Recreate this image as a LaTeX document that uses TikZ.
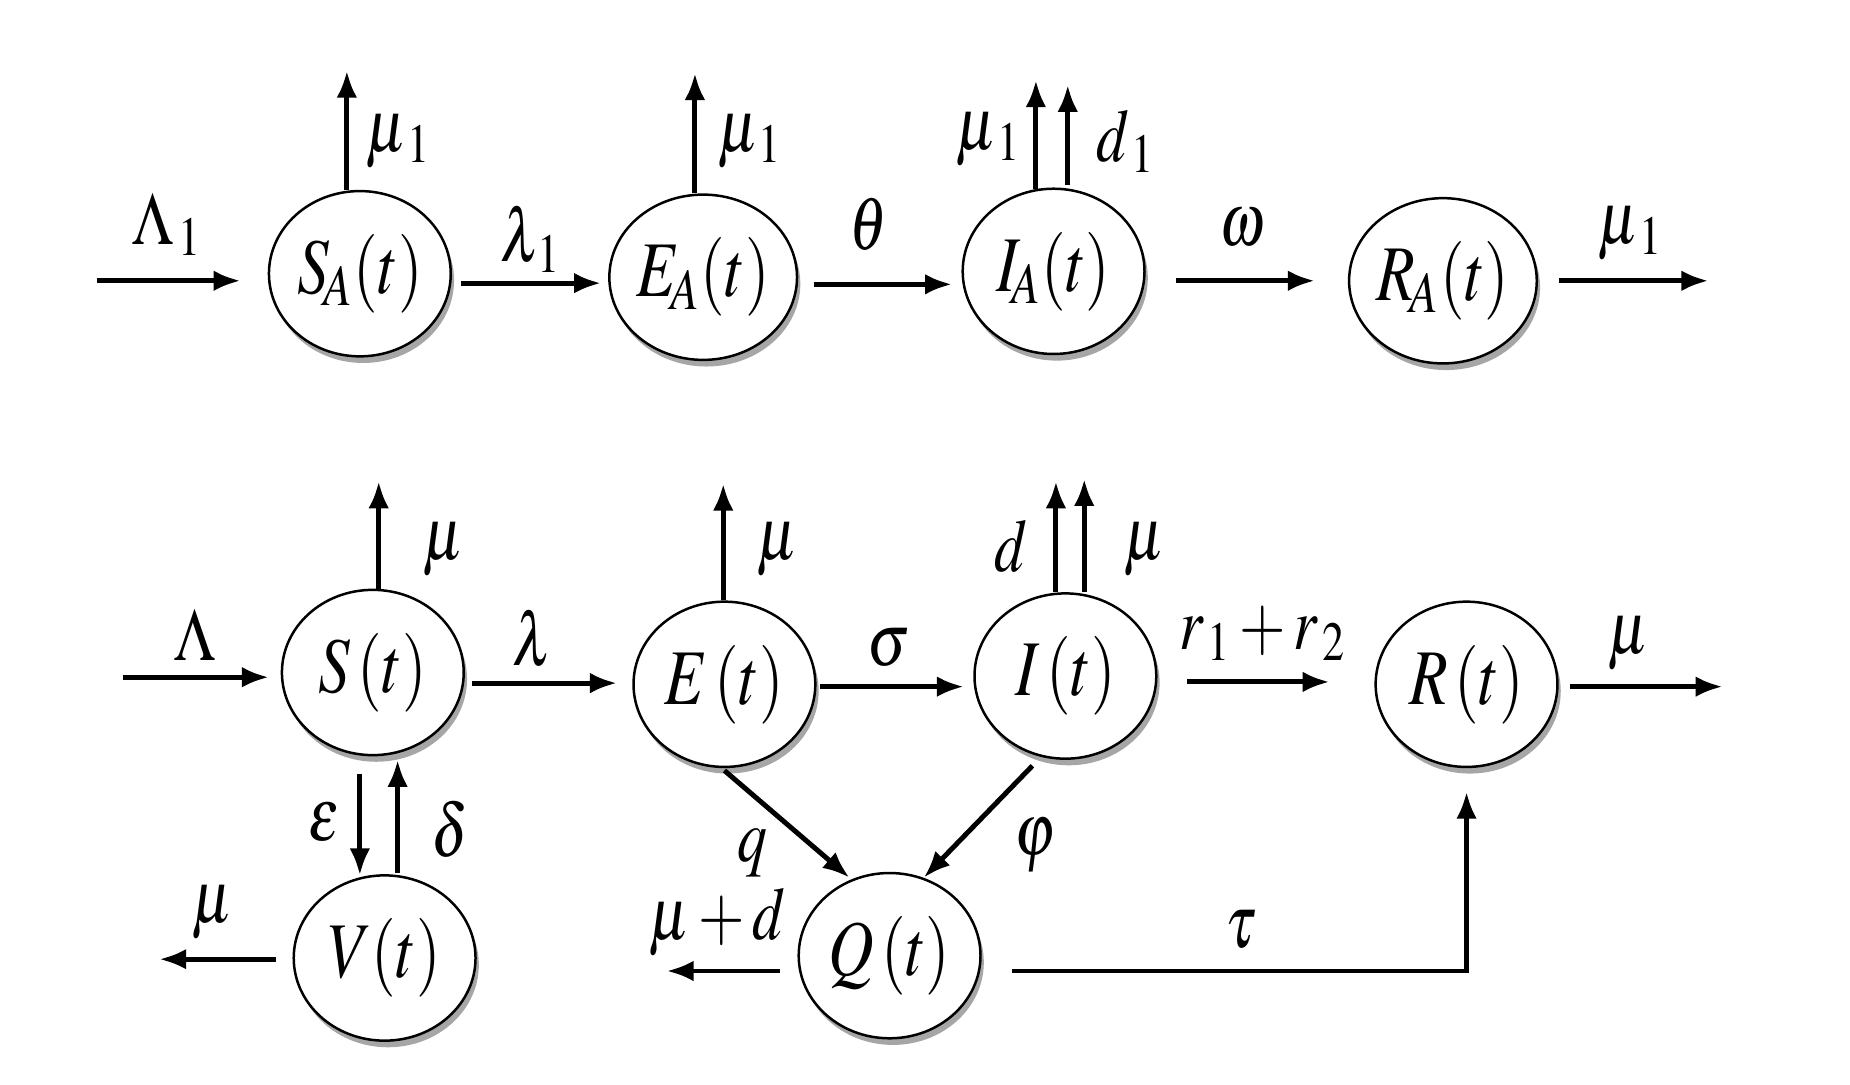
\documentclass[tikz,border=0pt]{standalone}
\usepackage{mathptmx}
\usepackage{graphicx}
\usetikzlibrary{arrows.meta,calc,shadows,shapes.geometric}
\newcommand{\condm}[1]{\scalebox{0.8}[1]{$#1$}}
\begin{document}
\begin{tikzpicture}[x=0.01cm,y=-0.01cm,
  comp/.style={draw, line width=0.6pt, ellipse, minimum width=1.54cm, minimum height=1.40cm,
    inner sep=0pt, fill=white,
    drop shadow={shadow xshift=0.8pt, shadow yshift=-1.6pt, opacity=0.35, fill=black},
    font=\fontsize{19}{22}\selectfont},
  flow/.style={-{Latex[length=6.5pt,width=5pt]}, line width=1.2pt},
  lab/.style={font=\fontsize{18}{21}\selectfont, inner sep=0pt}]
\fill[white] (0,0) rectangle (1568,919);
\useasboundingbox (0,0) rectangle (1568,919);

% ---------- top row ----------
\node[comp] (SA) at (305,232) {\condm{S_{\!A}(t)}};
\node[comp] (EA) at (596,235) {\condm{E_{\!A}(t)}};
\node[comp] (IA) at (893,230) {\condm{I_{\!A}(t)}};
\node[comp] (RA) at (1223,238) {\condm{R_{\!A}(t)}};

\coordinate (inA) at (82,238);
\coordinate (upSA) at (294,60);
\coordinate (upEA) at (589,62);
\coordinate (upIA1) at (878,68);
\coordinate (upIA2) at (905,72);
\coordinate (outRA) at (1448,238);

\draw[flow] (inA) -- ($(SA.west)+(-23,6)$);
\draw[flow] ($(SA.north)+(-11,0)$) -- (upSA);
\draw[flow] ($(SA.east)+(8,8)$) -- ($(EA.west)+(-6,5)$);
\draw[flow] ($(EA.north)+(-7,0)$) -- (upEA);
\draw[flow] ($(EA.east)+(13,6)$) -- ($(IA.west)+(-8,11)$);
\draw[flow] ($(IA.north)+(-15,1)$) -- (upIA1);
\draw[flow] ($(IA.north)+(12,-2)$) -- (upIA2);
\draw[flow] ($(IA.east)+(26,8)$) -- ($(RA.west)+(-28,0)$);
\draw[flow] ($(RA.east)+(18,0)$) -- (outRA);

\node[lab] (tLA1) at (142,190) {\condm{\Lambda_{\,1}}};
\node[lab] (tmuSA) at (338,120) {\condm{\mu_{\,1}}};
\node[lab] (tlam1) at (450,203) {\condm{\lambda_{\,1}}};
\node[lab] (tmuEA) at (636,120) {\condm{\mu_{\,1}}};
\node[lab] (ttheta) at (736,190) {\condm{\theta}};
\node[lab] (tmuIA) at (838,118) {\condm{\mu_{\,1}}};
\node[lab] (td1) at (954,120) {\condm{d_{\,1}}};
\node[lab] (tomega) at (1053,193) {\condm{\omega}};
\node[lab] (tmuRA) at (1382,198) {\condm{\mu_{\,1}}};

% ---------- bottom row ----------
\node[comp] (S) at (316,570) {\condm{S\,(t)}};
\node[comp] (E) at (614,580) {\condm{E\,(t)}};
\node[comp] (I) at (903,573) {\condm{I\,(t)}};
\node[comp] (R) at (1243,580) {\condm{R\,(t)}};
\node[comp] (V) at (326,812) {\condm{V(t)}};
\node[comp] (Q) at (754,810) {\condm{Q\,(t)}};

\coordinate (inS) at (104,574);
\coordinate (upS) at (321,408);
\coordinate (upE) at (613,410);
\coordinate (upI1) at (895,408);
\coordinate (upI2) at (919,406);
\coordinate (outR) at (1460,582);
\coordinate (outV) at (135,813);
\coordinate (outQ) at (565,823);

\draw[flow] (inS) -- ($(S.west)+(-10,4)$);
\draw[flow] ($(S.north)+(5,0)$) -- (upS);
\draw[flow] ($(S.east)+(6,9)$) -- ($(E.west)+(-13,-1)$);
\draw[flow] ($(E.north)+(-1,0)$) -- (upE);
\draw[flow] ($(E.east)+(3,2)$) -- ($(I.west)+(-8,9)$);
\draw[flow] ($(I.north)+(-8,0)$) -- (upI1);
\draw[flow] ($(I.north)+(16,0)$) -- (upI2);
\draw[flow] ($(I.east)+(25,5)$) -- ($(R.west)+(-38,-2)$);
\draw[flow] ($(R.east)+(10,2)$) -- (outR);
\draw[flow] ($(S.south)+(-11,15)$) -- ($(V.north)+(-21,1)$);
\draw[flow] ($(V.north)+(11,-1)$) -- ($(S.south)+(21,3)$);
\draw[flow] ($(V.west)+(-14,1)$) -- (outV);
\draw[flow] ($(E.south)+(0,2)$) -- ($(Q.north)+(-34,5)$);
\draw[flow] ($(I.south)+(-28,5)$) -- ($(Q.north)+(29,5)$);
\draw[flow] ($(Q.west)+(-15,13)$) -- (outQ);
\draw[flow] ($(Q.east)+(26,13)$) -| ($(R.south)+(0,20)$);

\node[lab] (tLA) at (165,538) {\condm{\Lambda}};
\node[lab] (tmuS) at (376,466) {\condm{\mu}};
\node[lab] (tlam) at (451,541) {\condm{\lambda}};
\node[lab] (tmuE) at (659,466) {\condm{\mu}};
\node[lab] (tsig) at (753,549) {\condm{\sigma}};
\node[lab] (td) at (857,463) {\condm{d}};
\node[lab] (tmuI) at (970,466) {\condm{\mu}};
\node[lab] (tr) at (1070,537) {\condm{r_{\,1}+r_{\,2}}};
\node[lab] (tmuR) at (1380,545) {\condm{\mu}};
\node[lab] (teps) at (275,697) {\condm{\varepsilon}};
\node[lab] (tdel) at (381,703) {\condm{\delta}};
\node[lab] (tmuV) at (180,773) {\condm{\mu}};
\node[lab] (tq) at (638,723) {\condm{q}};
\node[lab] (tphi) at (877,717) {\condm{\varphi}};
\node[lab] (tmud) at (608,782) {\condm{\mu+d}};
\node[lab] (ttau) at (1052,788) {\condm{\tau}};
\end{tikzpicture}
\end{document}
